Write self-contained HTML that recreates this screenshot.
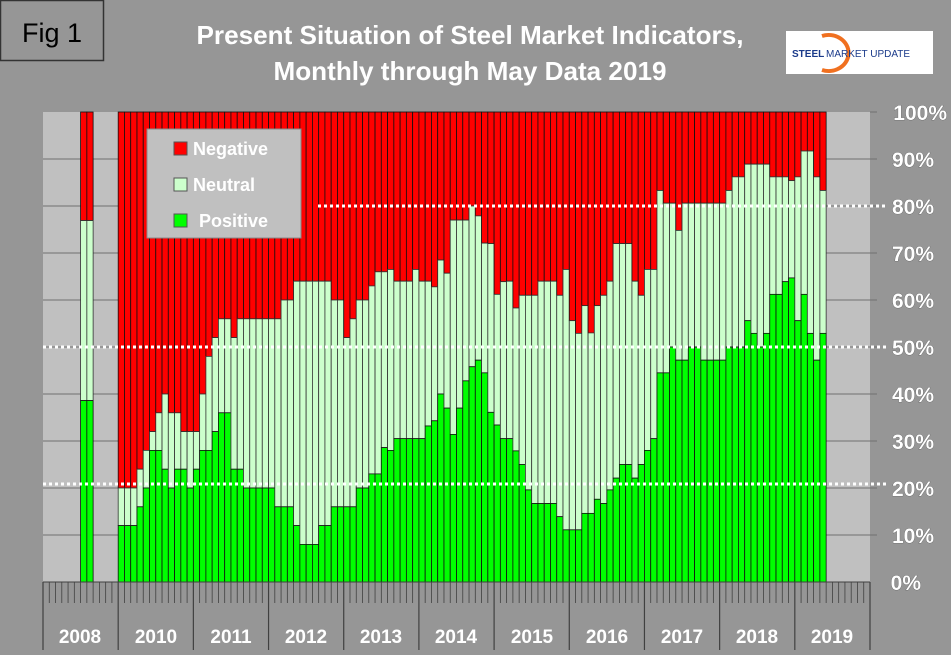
<!DOCTYPE html>
<html><head><meta charset="utf-8"><style>
html,body{margin:0;padding:0;background:#969696;}
svg{display:block;font-family:"Liberation Sans",Arial,sans-serif;}
</style></head><body>
<svg id="s" width="951" height="655" viewBox="0 0 951 655" xmlns="http://www.w3.org/2000/svg">
<rect x="0" y="0" width="951" height="655" fill="#969696"/>
<rect x="43" y="112" width="827" height="470" fill="#c0c0c0"/>
<g id="grid"></g>
<g id="bars"></g>
<g id="dots" stroke="#ffffff" stroke-width="3" stroke-dasharray="3,3">
<line x1="318" y1="206" x2="887" y2="206"/>
<line x1="43" y1="347" x2="887" y2="347"/>
<line x1="43" y1="484" x2="887" y2="484"/>
</g>
<g id="axis"></g>
<rect x="147" y="129" width="154" height="109" fill="#c0c0c0" stroke="#8a8a8a" stroke-width="1"/>
<rect x="174" y="142" width="13" height="13" fill="#ff0000" stroke="#555"/>
<rect x="174" y="178" width="13" height="13" fill="#ccffcc" stroke="#555"/>
<rect x="174" y="214" width="13" height="13" fill="#00ff00" stroke="#555"/>
<g font-weight="bold" font-size="18" fill="#ffffff">
<text x="193" y="155">Negative</text>
<text x="193" y="191">Neutral</text>
<text x="199" y="227">Positive</text>
</g>
<g font-weight="bold" font-size="21" fill="#ffffff" style="paint-order:stroke" stroke="#555" stroke-width="0.6">
<text x="947" y="120" text-anchor="end">100%</text>
<text x="934" y="167" text-anchor="end">90%</text>
<text x="934" y="214" text-anchor="end">80%</text>
<text x="934" y="261" text-anchor="end">70%</text>
<text x="934" y="308" text-anchor="end">60%</text>
<text x="934" y="355" text-anchor="end">50%</text>
<text x="934" y="402" text-anchor="end">40%</text>
<text x="934" y="449" text-anchor="end">30%</text>
<text x="934" y="496" text-anchor="end">20%</text>
<text x="934" y="543" text-anchor="end">10%</text>
<text x="921" y="590" text-anchor="end">0%</text>
</g>
<g font-weight="bold" font-size="19" fill="#ffffff" text-anchor="middle">
<text x="80" y="643">2008</text>
<text x="156" y="643">2010</text>
<text x="231" y="643">2011</text>
<text x="306" y="643">2012</text>
<text x="381" y="643">2013</text>
<text x="456" y="643">2014</text>
<text x="532" y="643">2015</text>
<text x="607" y="643">2016</text>
<text x="682" y="643">2017</text>
<text x="757" y="643">2018</text>
<text x="832" y="643">2019</text>
</g>
<rect x="0.5" y="0.5" width="103" height="60" fill="#969696" stroke="#333" stroke-width="1.5"/>
<text x="52" y="42" text-anchor="middle" font-size="27" fill="#000">Fig 1</text>
<g font-weight="bold" font-size="26" fill="#ffffff" text-anchor="middle">
<text x="470" y="44" textLength="547" lengthAdjust="spacingAndGlyphs">Present Situation of Steel Market Indicators,</text>
<text x="470" y="80" textLength="393" lengthAdjust="spacingAndGlyphs">Monthly through May Data 2019</text>
</g>
<rect x="786" y="31" width="147" height="43" fill="#ffffff"/>
<path d="M822 36 A20 18 0 1 1 822 70" fill="none" stroke="#f07020" stroke-width="4"/>
<text x="792" y="57" font-size="10" font-weight="bold" fill="#1a3a8a">STEEL</text>
<text x="826" y="57" font-size="10" fill="#1a3a8a">MARKET UPDATE</text>
</svg>
<script>
var NS="http://www.w3.org/2000/svg";
function el(p,t,a){var e=document.createElementNS(NS,t);for(var k in a)e.setAttribute(k,a[k]);p.appendChild(e);return e;}
var Y=function(v){return 582-v*4.7;};
var g=document.getElementById('grid');
for(var i=1;i<10;i++){el(g,'line',{x1:43,x2:877,y1:Y(i*10),y2:Y(i*10),stroke:'#707070','stroke-width':1});}
el(g,'line',{x1:870,x2:877,y1:112,y2:112,stroke:'#707070'});
var d=[[12,20],[12,20],[12,20],[16,24],[20,28],[28,32],[28,36],[24,40],[20,36],[24,36],[24,32],[20,32],[24,32],[28,40],[28,48],[32,52],[36,56],[36,56],[24,52],[24,56],[20,56],[20,56],[20,56],[20,56],[20,56],[16,56],[16,60],[16,60],[12,64],[8,64],[8,64],[8,64],[12,64],[12,64],[16,60],[16,60],[16,52],[16,56],[20,60],[20,60],[23,63],[23,66],[28.6,66],[28,66.5],[30.5,64],[30.5,64],[30.5,64],[30.5,66.5],[30.5,64],[33.2,64],[34.3,62.8],[40,68.5],[37,65.7],[31.4,77],[37,77],[42.8,77],[45.8,80],[47.2,77.9],
[44.5,72.1],[36.1,72],[33.4,61.2],[30.5,63.9],[30.5,64],[27.9,58.3],[25,61],[19.6,61],[16.7,61],[16.7,64],[16.7,64],[16.7,64],[13.9,61],[11.1,66.5],[11.1,55.6],[11.1,52.9],[14.6,58.8],[14.6,53],[17.6,58.8],[16.7,61],[19.6,64],[22.1,72],[25,72],[25,72],[22.1,64],[25,61],[28,66.5],[30.5,66.5],[44.5,83.3],[44.5,80.6],[50,80.6],[47.2,74.8],[47.2,80.6],[50,80.6],[50,80.6],[47.2,80.6],[47.2,80.6],[47.2,80.6],[47.2,80.6],[50,83.3],[50,86.2],[50,86.2],[55.6,88.9],[52.9,88.9],[50,88.9],[52.9,88.9],[61.2,86.2],[61.2,86.2],[63.9,86.2],[64.7,85.4],[55.6,86.2],[61.2,91.7],[52.9,91.7],[47.2,86.2],[52.9,83.3]];
var W=827/132,b=document.getElementById('bars');
function bar(x,p,n){
 el(b,'rect',{x:x,y:112,width:W,height:Y(n)-112,fill:'#ff0000',stroke:'#111','stroke-width':0.8});
 el(b,'rect',{x:x,y:Y(n),width:W,height:Y(p)-Y(n),fill:'#ccffcc',stroke:'#333','stroke-width':0.8});
 el(b,'rect',{x:x,y:Y(p),width:W,height:582-Y(p),fill:'#00ff00',stroke:'#111','stroke-width':0.8});
}
bar(43+6*W,38.6,76.9);bar(43+7*W,38.6,76.9);
for(var k=0;k<d.length;k++)bar(43+(12+k)*W,d[k][0],d[k][1]);
var a=document.getElementById('axis');
for(var m=0;m<=132;m++){var x=43+m*W;var yr=(m%12==0);
 el(a,'line',{x1:x,x2:x,y1:582,y2:yr?650:603,stroke:'#404040','stroke-width':yr?1.2:0.8});}
el(a,'line',{x1:43,x2:870,y1:582,y2:582,stroke:'#404040'});
</script>
</body></html>
